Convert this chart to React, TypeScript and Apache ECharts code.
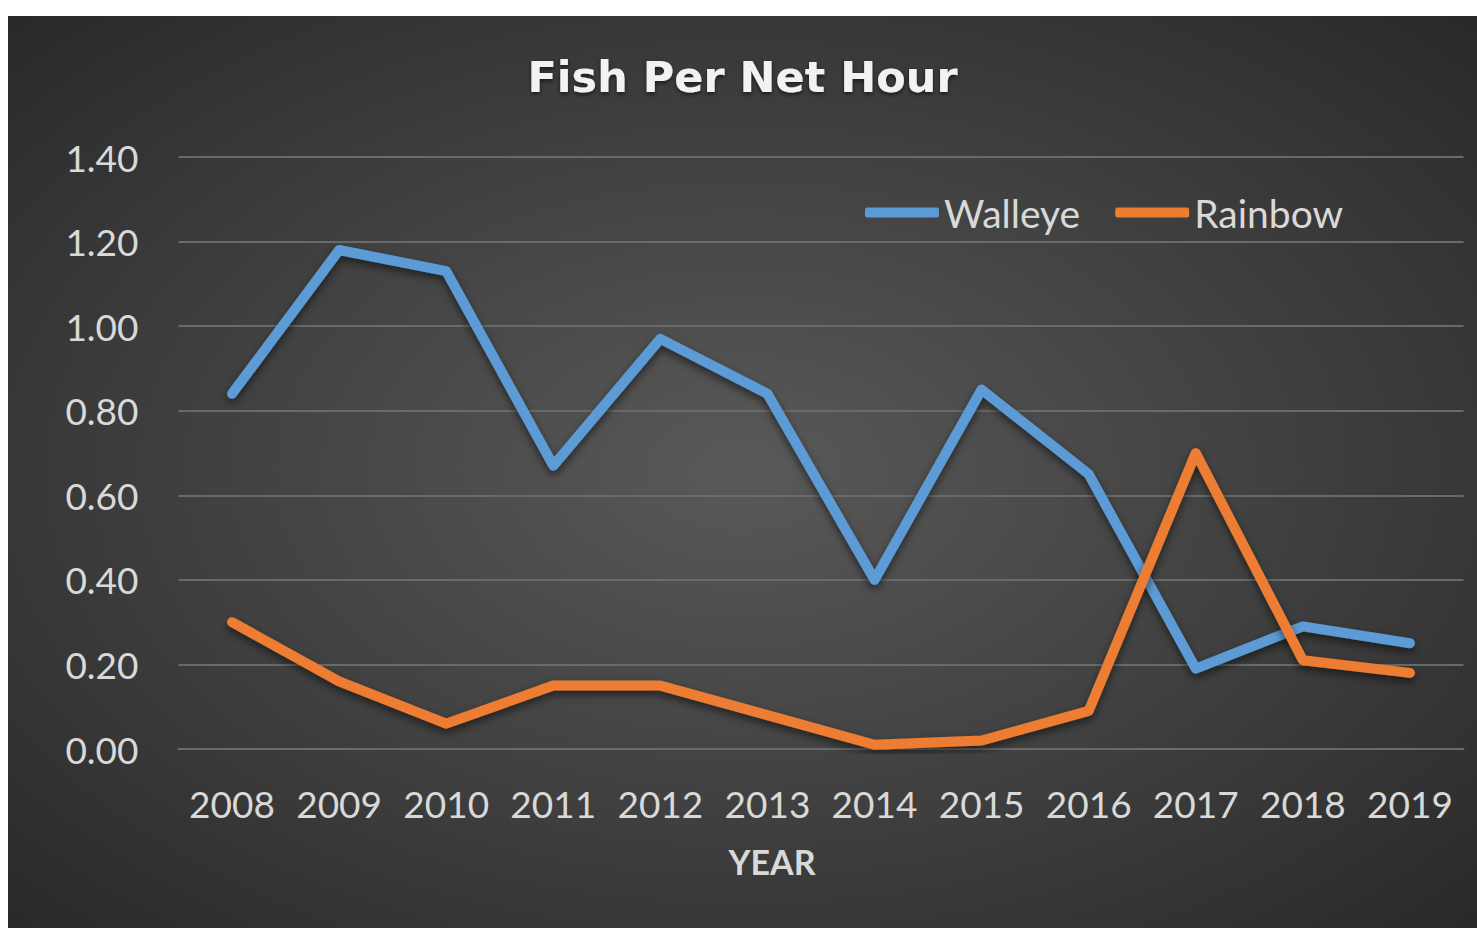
import React, { useEffect, useRef } from "react";
import * as echarts from "echarts";

const years = ["2008", "2009", "2010", "2011", "2012", "2013", "2014", "2015", "2016", "2017", "2018", "2019"];
const walleye = [0.84, 1.18, 1.13, 0.67, 0.97, 0.84, 0.4, 0.85, 0.65, 0.19, 0.29, 0.25];
const rainbow = [0.3, 0.16, 0.06, 0.15, 0.15, 0.08, 0.01, 0.02, 0.09, 0.7, 0.21, 0.18];
const titleText = "Fish Per Net Hour";
const xName = "YEAR";

export default function App() {
  const ref = useRef<HTMLDivElement>(null);
  useEffect(() => {
    if (!ref.current) return;
    const chart = echarts.init(ref.current, null, { renderer: "svg" });
    const font = "Lato, 'Open Sans', sans-serif";
    const lineShadow = {
      shadowColor: "rgba(0,0,0,0.55)",
      shadowBlur: 8,
      shadowOffsetX: 0,
      shadowOffsetY: 4,
    };
    chart.setOption({
      animation: false,
      backgroundColor: new echarts.graphic.RadialGradient(0.5, 0.5, 0.75, [
        { offset: 0, color: "#595959" },
        { offset: 0.55, color: "#3d3d3d" },
        { offset: 1, color: "#262626" },
      ]),
      title: {
        text: titleText,
        left: "center",
        top: 34,
        textStyle: {
          color: "#f2f2f2",
          fontSize: 43,
          fontWeight: "bold",
          fontFamily: "'DejaVu Sans', sans-serif",
          textShadowColor: "rgba(0,0,0,0.6)",
          textShadowBlur: 4,
          textShadowOffsetY: 2,
        },
      },
      legend: {
        left: 852,
        top: 172,
        itemWidth: 74,
        itemHeight: 10,
        itemGap: 35,
        icon: "roundRect",
        textStyle: { color: "#d9d9d9", fontSize: 39, fontFamily: font },
        data: ["Walleye", "Rainbow"],
      },
      grid: { left: 170.5, right: 13.5, top: 141, bottom: 179, containLabel: false },
      xAxis: {
        type: "category",
        data: years,
        boundaryGap: true,
        name: xName,
        nameLocation: "middle",
        nameGap: 95,
        nameTextStyle: {
          color: "#d9d9d9",
          fontSize: 34,
          fontWeight: "bold",
          fontFamily: font,
          padding: [0, 98, 0, 0],
        },
        axisLine: { show: true, lineStyle: { color: "#6a6a6a", width: 2 } },
        axisTick: { show: false },
        axisLabel: { color: "#d9d9d9", fontSize: 37, fontFamily: font, margin: 36, interval: 0 },
      },
      yAxis: {
        type: "value",
        min: 0,
        max: 1.4,
        interval: 0.2,
        axisLine: { show: false },
        axisTick: { show: false },
        axisLabel: {
          color: "#d9d9d9",
          fontSize: 37,
          fontFamily: font,
          margin: 40,
          formatter: (v: number) => v.toFixed(2),
        },
        splitLine: { lineStyle: { color: "#6a6a6a", width: 2 } },
      },
      series: [
        {
          name: "Walleye",
          type: "line",
          data: walleye,
          symbol: "none",
          color: "#5b9bd5",
          lineStyle: { width: 10, color: "#5b9bd5", cap: "round", join: "round", ...lineShadow },
        },
        {
          name: "Rainbow",
          type: "line",
          data: rainbow,
          symbol: "none",
          color: "#ed7d31",
          lineStyle: { width: 10, color: "#ed7d31", cap: "round", join: "round", ...lineShadow },
        },
      ],
    });
    return () => chart.dispose();
  }, []);
  return (
    <div
      ref={ref}
      style={{ position: "absolute", left: 8, top: 16, width: 1469, height: 912 }}
    />
  );
}
